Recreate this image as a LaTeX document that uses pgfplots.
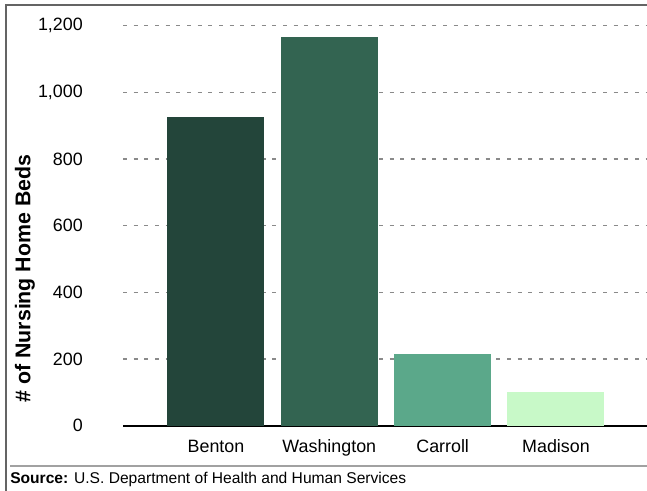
\documentclass[border=0pt]{standalone}
\usepackage{pgfplots}
\pgfplotsset{compat=1.18}
\usepackage{fontspec}
\setmainfont{Liberation Sans}
\definecolor{cBenton}{HTML}{23453A}
\definecolor{cWash}{HTML}{336451}
\definecolor{cCarroll}{HTML}{5BA88A}
\definecolor{cMadison}{HTML}{C8F9C8}
\definecolor{frame}{HTML}{646464}
\definecolor{gridc}{HTML}{8A8A8A}
\begin{document}
\begin{tikzpicture}
\useasboundingbox (0,0) rectangle (485.25pt,367.5pt);
\begin{axis}[
  at={(92.25pt,48.3pt)}, anchor=south west,
  scale only axis, width=397.5pt, height=300pt,
  xmin=-0.8206, xmax=3.856, ymin=0, ymax=1200,
  axis lines*=left,
  y axis line style={draw=none},
  x axis line style={black, line width=1.5pt},
  major tick length=0pt,
  xtick={0,1,2,3},
  xticklabels={Benton,Washington,Carroll,Madison},
  ytick={0,200,...,1200},
  ymajorgrids,
  major grid style={gridc, line width=1pt, dash pattern=on 3pt off 5pt},
  /pgf/number format/assume math mode=true,
  /pgf/number format/1000 sep={,},
  tick label style={font=\fontsize{13.4}{15}\selectfont},
  yticklabel style={anchor=east, inner sep=0pt, xshift=-30pt},
  xticklabel style={anchor=base, inner sep=0pt, yshift=-20.5pt},
  bar width=72.75pt,
  clip=false,
]
\addplot[ybar, fill=cBenton, draw=none, bar shift=0pt] coordinates {(0,927)};
\addplot[ybar, fill=cWash, draw=none, bar shift=0pt] coordinates {(1,1167)};
\addplot[ybar, fill=cCarroll, draw=none, bar shift=0pt] coordinates {(2,215)};
\addplot[ybar, fill=cMadison, draw=none, bar shift=0pt] coordinates {(3,101)};
\end{axis}
% frame
\draw[frame, line width=1.8pt] (4.6pt,-2pt) -- (4.6pt,363.6pt) -- (490pt,363.6pt);
\draw[gridc!80, line width=1.2pt] (7.5pt,18pt) -- (490pt,18pt);
\node[anchor=base west, inner sep=0pt, font=\fontsize{11.7}{14}\selectfont] at (7.5pt,4.8pt) {\textbf{Source:} U.S. Department of Health and Human Services};
\node[rotate=90, inner sep=0pt, font=\fontsize{16}{18}\selectfont\bfseries] at (18.75pt,158.6pt) {\# of Nursing Home Beds};
\end{tikzpicture}
\end{document}
